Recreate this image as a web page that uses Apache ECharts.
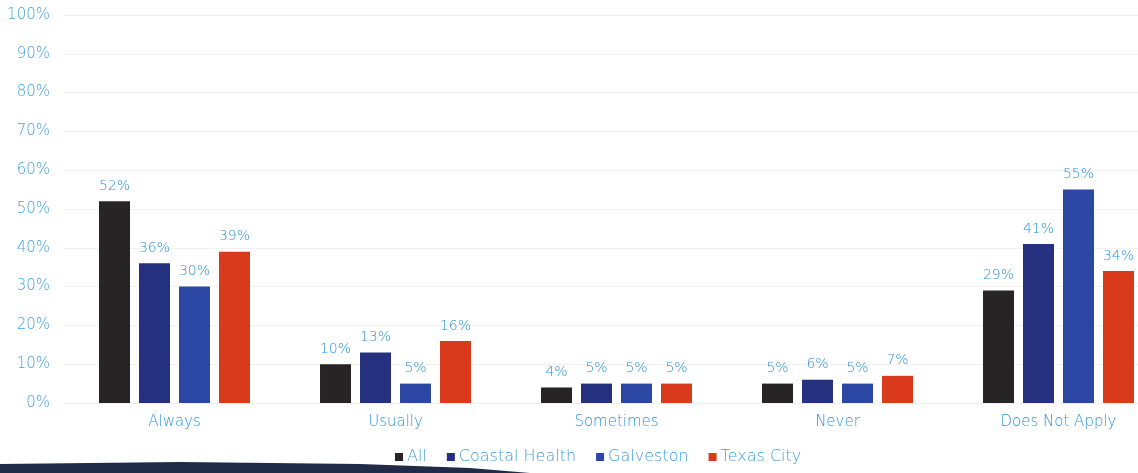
<!DOCTYPE html>
<html>
<head>
<meta charset="utf-8">
<script src="https://cdn.jsdelivr.net/npm/echarts@6/dist/echarts.min.js"></script>
<style>
  html, body { margin: 0; padding: 0; background: #ffffff; }
  #chart { width: 1138px; height: 473px; }
</style>
</head>
<body>
<div id="chart"></div>
<script>
// Survey responses by answer, in percent
const categories = ['Always', 'Usually', 'Sometimes', 'Never', 'Does Not Apply'];
const seriesNames = ['All', 'Coastal Health', 'Galveston', 'Texas City'];
const allValues = [52, 10, 4, 5, 29];
const coastalHealthValues = [36, 13, 5, 6, 41];
const galvestonValues = [30, 5, 5, 5, 55];
const texasCityValues = [39, 16, 5, 7, 34];
const yTicks = [0, 10, 20, 30, 40, 50, 60, 70, 80, 90, 100];

const colors = ['#272425', '#25307f', '#2c46a3', '#d93a1b'];
const labelBlue = '#2a92d6';
const fontFamily = '"DejaVu Sans", "Noto Sans", sans-serif';

const valueSets = [allValues, coastalHealthValues, galvestonValues, texasCityValues];

const chart = echarts.init(document.getElementById('chart'));
chart.setOption({
  backgroundColor: '#ffffff',
  animation: false,
  // the last band runs past the right edge of the canvas
  grid: { left: 64, width: 1105, top: 15, bottom: 70, outerBoundsMode: 'none', containLabel: false },
  legend: {
    data: seriesNames,
    bottom: 3,
    left: 390,
    itemWidth: 8,
    itemHeight: 8,
    itemGap: 20,
    icon: 'rect',
    textStyle: { color: '#3f9fdb', fontSize: 16, fontFamily: fontFamily, fontWeight: 200, padding: [0, 0, 0, -1] }
  },
  xAxis: {
    type: 'category',
    data: categories,
    axisLine: { show: false },
    axisTick: { show: false },
    axisLabel: { color: '#2f95d8', fontSize: 15, fontFamily: fontFamily, fontWeight: 200, margin: 12 }
  },
  yAxis: {
    type: 'value',
    min: yTicks[0],
    max: yTicks[yTicks.length - 1],
    interval: yTicks[1] - yTicks[0],
    axisLine: { show: false },
    axisTick: { show: false },
    axisLabel: {
      formatter: v => v + '%',
      color: '#45a3dd',
      fontSize: 15,
      fontFamily: fontFamily,
      fontWeight: 200,
      margin: 14
    },
    splitLine: { lineStyle: { color: '#f1f1f1', width: 1 } }
  },
  series: seriesNames.map((name, i) => ({
    name: name,
    type: 'bar',
    data: valueSets[i],
    barWidth: 31,
    barGap: '29%',
    itemStyle: { color: colors[i] },
    label: {
      show: true,
      position: 'top',
      distance: 8,
      formatter: p => p.value + '%',
      color: labelBlue,
      fontSize: 14,
      fontFamily: fontFamily,
      fontWeight: 200
    }
  })),
  graphic: [{
    type: 'polygon',
    z: -1,
    shape: { points: [[0, 464], [180, 462], [360, 464], [470, 468], [530, 473], [0, 473]] },
    style: { fill: '#1f2b47' }
  }]
});
</script>
</body>
</html>
